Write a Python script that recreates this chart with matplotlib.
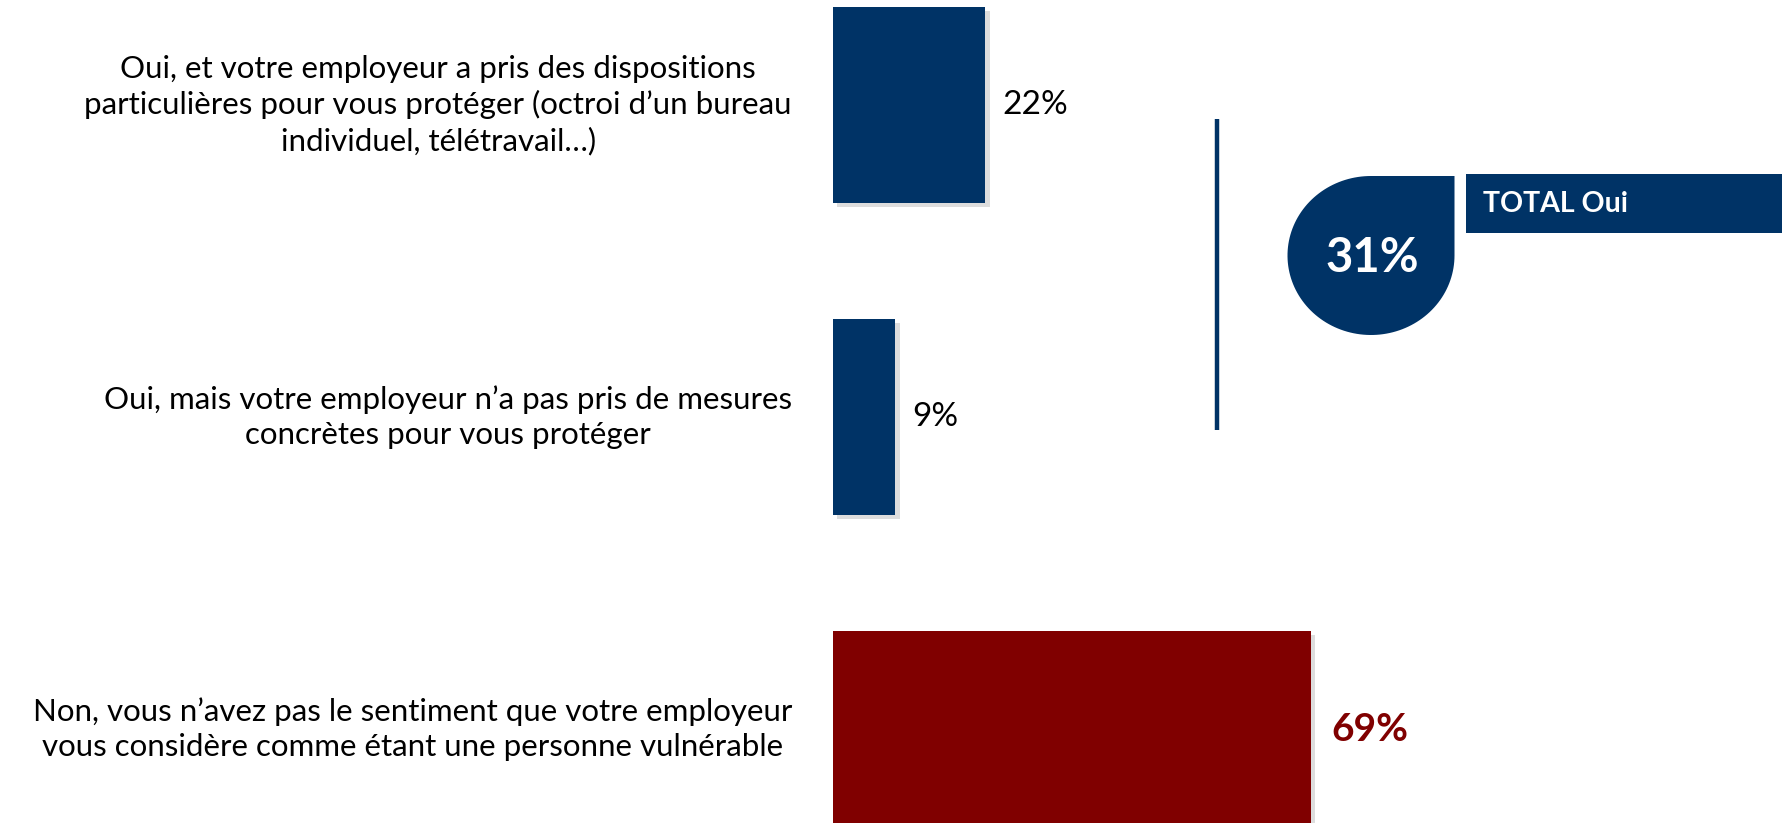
import numpy as np
import matplotlib
matplotlib.use("Agg")
import matplotlib.pyplot as plt
from matplotlib.path import Path
from matplotlib.patches import PathPatch, Rectangle
import matplotlib.patheffects as pe

# ---- data ----
categories = [
    "Oui, et votre employeur a pris des dispositions\nparticulières pour vous protéger (octroi d\u2019un bureau\nindividuel, télétravail\u2026)",
    "Oui, mais votre employeur n\u2019a pas pris de mesures\nconcrètes pour vous protéger",
    "Non, vous n\u2019avez pas le sentiment que votre employeur\nvous considère comme étant une personne vulnérable",
]
values = [22, 9, 69]
value_labels = ["22%", "9%", "69%"]
total_label = "TOTAL Oui"
total_value = 31

NAVY = "#003366"
RED = "#800000"
bar_colors = [NAVY, NAVY, RED]

plt.rcParams['font.family'] = ['Lato', 'DejaVu Sans']

W, H = 1782, 823
fig = plt.figure(figsize=(W / 100, H / 100), dpi=100)

# main bar axes (left edge 833 px, ~6.93 px per %)
ax = fig.add_axes([833 / W, 0, 693 / W, 1])
ax.set_xlim(0, 100)
ax.set_ylim(2.301, -0.3365)
ax.axis("off")

ypos = np.arange(len(values))
bars = ax.barh(ypos, values, height=0.63, color=bar_colors, zorder=3)
for b in bars:
    b.set_path_effects([pe.SimplePatchShadow(offset=(3, -3), shadow_rgbFace="#909090", alpha=0.3),
                        pe.Normal()])

for i, (v, lab) in enumerate(zip(values, value_labels)):
    bold = i == 2
    ax.annotate(lab, xy=(v, i), xytext=(20 if bold else 17, 0), textcoords="offset pixels",
                va="center", ha="left", fontsize=28 if bold else 24,
                color=RED if bold else "black", fontweight="bold" if bold else "normal")

# category labels (right-aligned block, centered lines)
for i, cat in enumerate(categories):
    ax.annotate(cat, xy=(0, i), xycoords="data", xytext=(792 - 833, 0),
                textcoords="offset pixels", ha="right", va="center",
                multialignment="center", fontsize=22.5, linespacing=1.3, color="black")

# overlay in pixel coordinates for the TOTAL callout
ov = fig.add_axes([0, 0, 1, 1])
ov.set_xlim(0, W)
ov.set_ylim(H, 0)
ov.axis("off")

# vertical separator
ov.plot([1216.5, 1216.5], [119, 430], color=NAVY, lw=3.2, solid_capstyle="butt")

# teardrop shape
cx, cy, rx, ry = 1371, 255.5, 83.5, 79.5
t = np.linspace(0, 1.5 * np.pi, 120)
xs = cx + rx * np.cos(t)
ys = cy + ry * np.sin(t)
verts = list(zip(xs, ys)) + [(cx + rx, cy - ry), (cx + rx, cy), (cx + rx, cy)]
codes = [Path.MOVETO] + [Path.LINETO] * (len(verts) - 2) + [Path.CLOSEPOLY]
ov.add_patch(PathPatch(Path(verts, codes), facecolor=NAVY, edgecolor="none"))
ov.text(cx + 1, cy + 3, f"{total_value}%", ha="center", va="center", color="white",
        fontsize=34, fontweight="bold")

# TOTAL Oui banner
ov.add_patch(Rectangle((1466, 174), W - 1466 + 5, 59, facecolor=NAVY, edgecolor="none"))
ov.text(1483, 204, total_label, ha="left", va="center", color="white",
        fontsize=20.5, fontweight="bold")

fig.savefig("out.png", dpi=100, facecolor="white")
